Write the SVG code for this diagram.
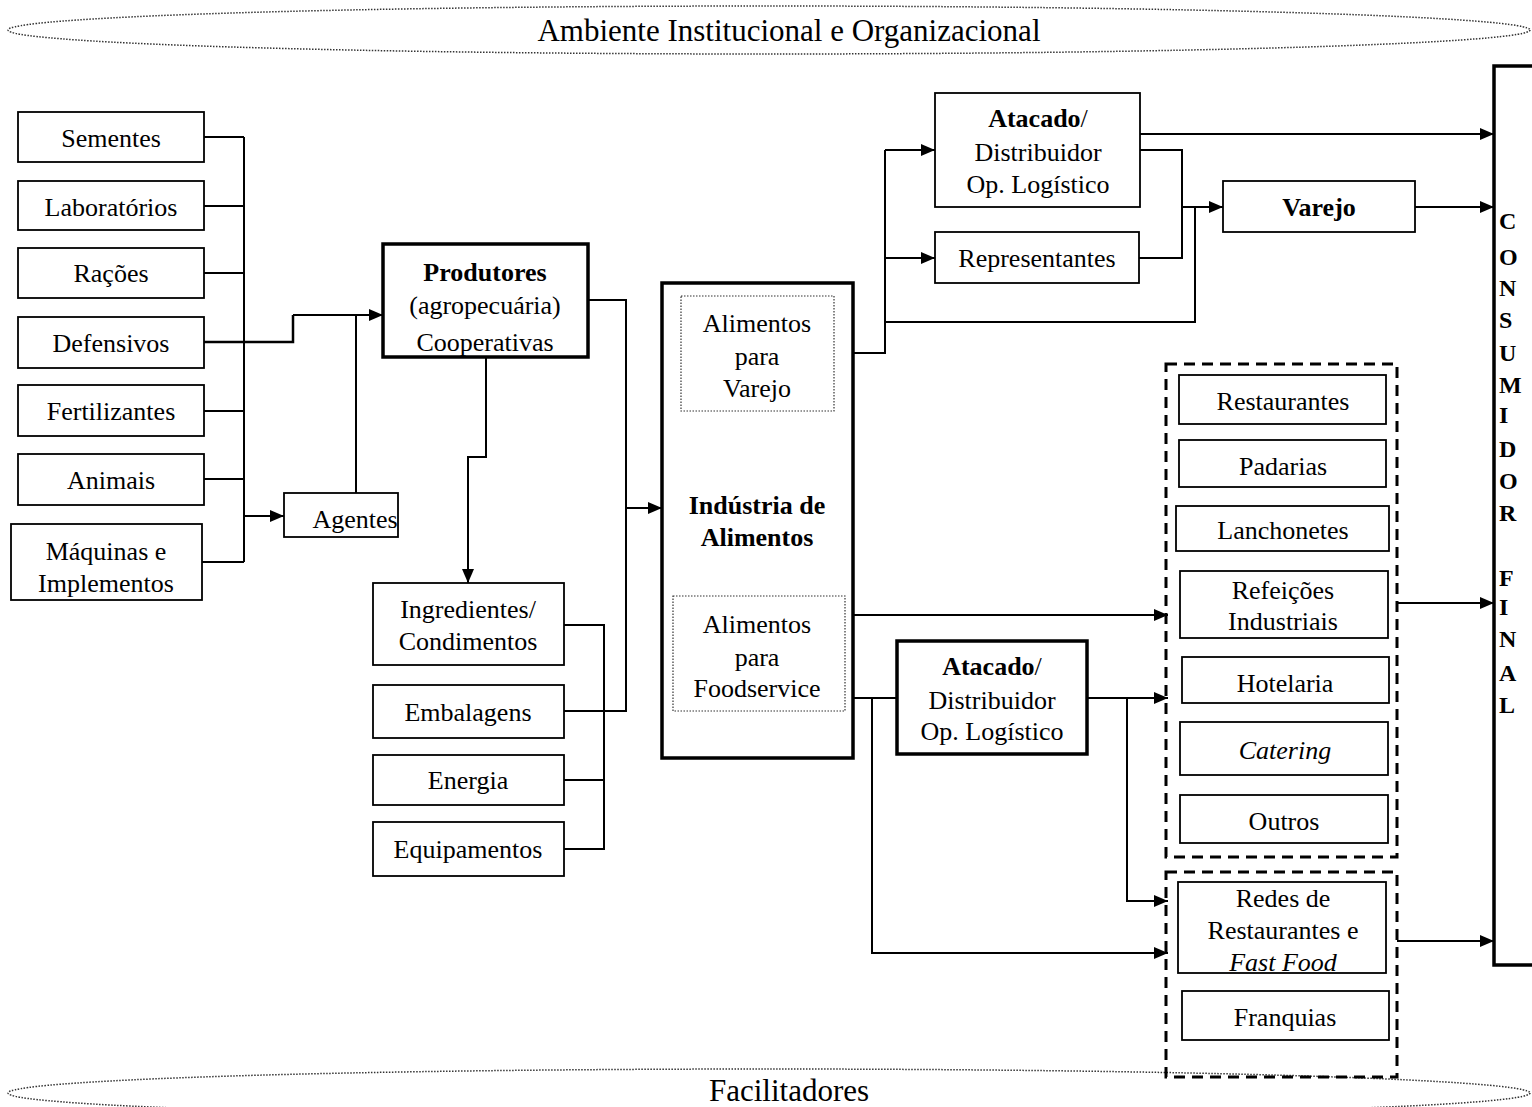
<svg xmlns="http://www.w3.org/2000/svg" width="1532" height="1107" viewBox="0 0 1532 1107">
<style>
text{font-family:"Liberation Serif","Times New Roman",serif;font-size:26px;fill:#000;text-anchor:middle}
.b{font-weight:bold}
.i{font-style:italic}
.big{font-size:31px}
.cl{font-size:24px;font-weight:bold;text-anchor:start}
.box{fill:#fff;stroke:#000;stroke-width:1.8}
.thick{fill:#fff;stroke:#000;stroke-width:3.5}
.dot{fill:none;stroke:#333;stroke-width:1.2;stroke-dasharray:1.5 1.5}
.dash{fill:none;stroke:#000;stroke-width:3;stroke-dasharray:11 7}
.ell{fill:none;stroke:#333;stroke-width:1.5;stroke-dasharray:1.5 1.5}
.c{fill:none;stroke:#000;stroke-width:2}
.ca{fill:none;stroke:#000;stroke-width:2;marker-end:url(#ah)}
</style>
<defs>
<marker id="ah" markerUnits="userSpaceOnUse" markerWidth="14" markerHeight="12" refX="14" refY="6" orient="auto">
<path d="M0,0 L14,6 L0,12 z" fill="#000"/>
</marker>
</defs>
<rect width="1532" height="1107" fill="#fff"/>

<g id="ambiente">
<ellipse class="ell" cx="769" cy="30" rx="761" ry="24"/>
<text class="big" x="789" y="41">Ambiente Institucional e Organizacional</text>
</g>
<g id="facilitadores">
<ellipse class="ell" cx="769" cy="1093" rx="761" ry="24"/>
<text class="big" x="789" y="1101">Facilitadores</text>
</g>

<g id="connectors">
<path class="c" d="M204,137 H244 M204,206 H244 M204,273 H244 M204,411 H244 M204,479 H244 M202,562 H244 M244,137 V562"/>
<path class="c" d="M204,342 H293 V315" style="stroke-width:2.5"/>
<path class="ca" d="M293,315 H383"/>
<path class="c" d="M356,493 V315"/>
<path class="ca" d="M244,516 H284"/>
<path class="c" d="M588,300 H626 V711 H564"/>
<path class="ca" d="M626,508 H662"/>
<path class="ca" d="M486,357 V457 H468 V583"/>
<path class="c" d="M564,625 H604 V849 H564 M564,780 H604"/>
<path class="c" d="M853,353 H885 V150"/>
<path class="ca" d="M885,150 H935"/>
<path class="ca" d="M885,258 H935"/>
<path class="c" d="M885,322 H1195 V207"/>
<path class="ca" d="M1140,134 H1494"/>
<path class="c" d="M1140,150 H1182 V258 H1139"/>
<path class="ca" d="M1182,207 H1223"/>
<path class="ca" d="M1405,207 H1494"/>
<path class="ca" d="M853,615 H1168"/>
<path class="c" d="M853,698 H897"/>
<path class="ca" d="M872,698 V953 H1168"/>
<path class="ca" d="M1087,698 H1168"/>
<path class="ca" d="M1127,698 V901 H1168"/>
<path class="ca" d="M1397,603 H1494"/>
<path class="ca" d="M1397,941 H1494"/>
</g>

<g id="sementes"><rect class="box" x="18" y="112" width="186" height="50"/><text x="111" y="147">Sementes</text></g>
<g id="laboratorios"><rect class="box" x="18" y="181" width="186" height="49"/><text x="111" y="216">Laboratórios</text></g>
<g id="racoes"><rect class="box" x="18" y="248" width="186" height="50"/><text x="111" y="282">Rações</text></g>
<g id="defensivos"><rect class="box" x="18" y="317" width="186" height="51"/><text x="111" y="352">Defensivos</text></g>
<g id="fertilizantes"><rect class="box" x="18" y="385" width="186" height="51"/><text x="111" y="420">Fertilizantes</text></g>
<g id="animais"><rect class="box" x="18" y="454" width="186" height="51"/><text x="111" y="489">Animais</text></g>
<g id="maquinas"><rect class="box" x="11" y="524" width="191" height="76"/><text x="106" y="560">Máquinas e</text><text x="106" y="592">Implementos</text></g>
<g id="agentes"><rect class="box" x="284" y="493" width="114" height="44"/><text x="355" y="528">Agentes</text></g>

<g id="produtores"><rect class="thick" x="383" y="244" width="205" height="113"/>
<text class="b" x="485" y="281">Produtores</text><text x="485" y="314">(agropecuária)</text><text x="485" y="351">Cooperativas</text></g>

<g id="ingredientes"><rect class="box" x="373" y="583" width="191" height="82"/><text x="468" y="618">Ingredientes/</text><text x="468" y="650">Condimentos</text></g>
<g id="embalagens"><rect class="box" x="373" y="685" width="191" height="53"/><text x="468" y="721">Embalagens</text></g>
<g id="energia"><rect class="box" x="373" y="755" width="191" height="50"/><text x="468" y="789">Energia</text></g>
<g id="equipamentos"><rect class="box" x="373" y="822" width="191" height="54"/><text x="468" y="858">Equipamentos</text></g>

<g id="industria"><rect class="thick" x="662" y="283" width="191" height="475"/>
<rect class="dot" x="681" y="296" width="153" height="115"/>
<text x="757" y="332">Alimentos</text><text x="757" y="365">para</text><text x="757" y="397">Varejo</text>
<text class="b" x="757" y="514">Indústria de</text><text class="b" x="757" y="546">Alimentos</text>
<rect class="dot" x="673" y="596" width="172" height="115"/>
<text x="757" y="633">Alimentos</text><text x="757" y="666">para</text><text x="757" y="697">Foodservice</text></g>

<g id="atacado1"><rect class="box" x="935" y="93" width="205" height="114"/>
<text x="1038" y="127"><tspan class="b">Atacado</tspan>/</text><text x="1038" y="161">Distribuidor</text><text x="1038" y="193">Op. Logístico</text></g>
<g id="representantes"><rect class="box" x="935" y="232" width="204" height="51"/><text x="1037" y="267">Representantes</text></g>
<g id="varejo"><rect class="box" x="1223" y="181" width="192" height="51"/><text class="b" x="1319" y="216">Varejo</text></g>

<g id="atacado2"><rect class="thick" x="897" y="641" width="190" height="113"/>
<text x="992" y="675"><tspan class="b">Atacado</tspan>/</text><text x="992" y="709">Distribuidor</text><text x="992" y="740">Op. Logístico</text></g>

<g id="foodservice-grupo"><rect class="dash" x="1166" y="364" width="231" height="493"/>
<rect class="box" x="1179" y="375" width="207" height="49"/><text x="1283" y="410">Restaurantes</text>
<rect class="box" x="1179" y="440" width="207" height="47"/><text x="1283" y="475">Padarias</text>
<rect class="box" x="1176" y="506" width="213" height="45"/><text x="1283" y="539">Lanchonetes</text>
<rect class="box" x="1180" y="571" width="208" height="67"/><text x="1283" y="599">Refeições</text><text x="1283" y="630">Industriais</text>
<rect class="box" x="1182" y="657" width="207" height="46"/><text x="1285" y="692">Hotelaria</text>
<rect class="box" x="1180" y="722" width="208" height="53"/><text class="i" x="1285" y="759">Catering</text>
<rect class="box" x="1180" y="795" width="208" height="48"/><text x="1284" y="830">Outros</text>
</g>
<g id="redes-grupo"><rect class="dash" x="1166" y="872" width="231" height="205"/>
<rect class="box" x="1178" y="882" width="208" height="91"/><text x="1283" y="907">Redes de</text><text x="1283" y="939">Restaurantes e</text><text class="i" x="1283" y="971">Fast Food</text>
<rect class="box" x="1182" y="991" width="207" height="49"/><text x="1285" y="1026">Franquias</text>
</g>

<g id="consumidor"><rect class="thick" x="1494" y="66" width="60" height="899"/>
<text class="cl" x="1499" y="229">C</text><text class="cl" x="1499" y="265">O</text><text class="cl" x="1499" y="296">N</text><text class="cl" x="1499" y="328">S</text><text class="cl" x="1499" y="361">U</text><text class="cl" x="1499" y="393">M</text><text class="cl" x="1499" y="423">I</text><text class="cl" x="1499" y="457">D</text><text class="cl" x="1499" y="489">O</text><text class="cl" x="1499" y="521">R</text>
<text class="cl" x="1499" y="586">F</text><text class="cl" x="1499" y="615">I</text><text class="cl" x="1499" y="647">N</text><text class="cl" x="1499" y="681">A</text><text class="cl" x="1499" y="713">L</text>
</g>
</svg>
